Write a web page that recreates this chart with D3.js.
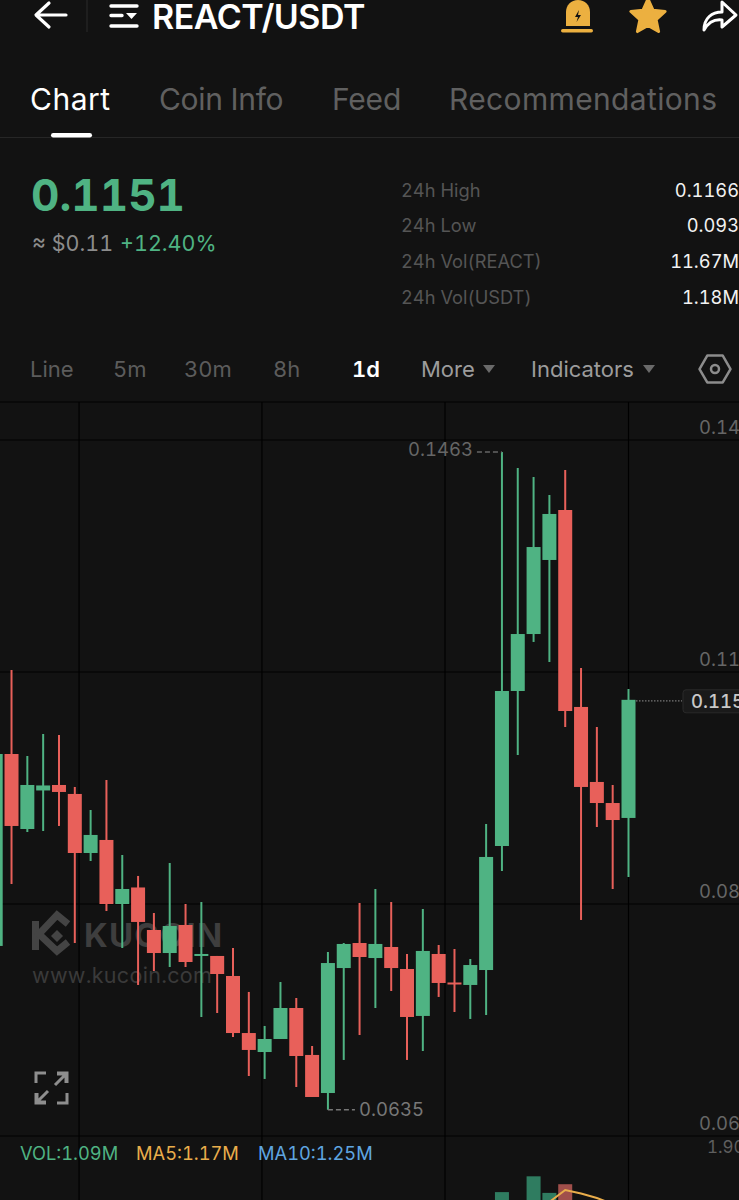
<!DOCTYPE html>
<html>
<head>
  <meta charset="utf-8">
  <title>REACT/USDT</title>
  <script src="https://cdn.jsdelivr.net/npm/d3@7"></script>
  <style>
    html, body { margin: 0; padding: 0; background: #121212; overflow: hidden; }
    svg { display: block; }
    text { font-family: Inter, "Noto Sans", sans-serif; font-variant-numeric: tabular-nums; font-feature-settings: "tnum"; }
    .axis path, .axis line { display: none; }
  </style>
</head>
<body>
  <div id="chart"></div>
  <script>
    // candles, oldest first
    var open = [.08412, .10828, .09884, .10369, .10438, .10325, .09582, .09746, .08940, .09148, .08613, .08323, .08676, .08286, .08286, .08034, .07316, .07077, .07241, .07631, .07040,
      .06561, .08134, .08449, .08260, .08399, .08122, .07531, .08311, .07952, .07921, .08109, .09670, .11621, .12338, .13270, .13899, .11420, .10476, .10211, .10023];
    var close = [.10828, .09922, .10438, .10432, .10350, .09582, .09809, .08940, .09129, .08714, .08323, .08663, .08210, .08311, .08059, .07316, .07103, .07241, .07631, .07027, .06511,
      .08197, .08437, .08273, .08437, .08134, .07518, .08349, .07946, .07933, .08172, .09532, .11621, .12338, .13433, .13849, .11369, .10413, .10211, .09997, .1151];
    var high = [.10828, .11885, .10803, .11080, .11067, .10413, .10123, .10501, .09557, .09293, .08827, .09456, .08940, .08965, .08286, .08386, .07833, .07405, .07958, .07757, .07153,
      .08336, .08449, .08953, .09129, .08965, .08311, .08877, .08424, .08374, .08248, .09947, .1463, .14428, .14314, .14088, .14402, .11910, .11168, .10438, .11646];
    var low = [.08412, .09192, .09846, .09859, .09922, .08449, .09481, .08852, .08386, .07921, .08097, .08147, .08147, .07518, .07568, .07266, .06775, .06738, .07241, .06637, .06511,
      .0635, .06977, .07291, .07631, .07845, .06977, .07090, .07770, .07581, .07493, .07543, .09355, .10815, .12238, .11986, .11168, .08739, .09909, .09129, .09280];

    var priceTicks = [0.1478, 0.1186, 0.0894, 0.0602];
    var gridSlots = [5.27, 16.83, 28.4, 40];

    // volume pane, only the tops of these reach the screen
    var volSlots = [32, 34, 35, 36];
    var volValues = [1.24, 1.44, 1.23, 1.34];
    var volUp = [true, true, true, false];
    var ma5Slots = [35, 36, 37, 38, 39];
    var ma5Values = [1.115, 1.267, 1.222, 1.165, 1.09];

    var tabs = ['Chart', 'Coin Info', 'Feed', 'Recommendations'];
    var statNames = ['24h High', '24h Low', '24h Vol(REACT)', '24h Vol(USDT)'];
    var statValues = ['0.1166', '0.093', '11.67M', '1.18M'];
    var periods = ['Line', '5m', '30m', '8h', '1d', 'More', 'Indicators'];
    var volLegend = ['VOL:1.09M', 'MA5:1.17M', 'MA10:1.25M'];

    var GREEN = '#4fb383', RED = '#e8605a', GOLD = '#ecb040';

    var svg = d3.select('#chart').append('svg')
      .attr('width', 739)
      .attr('height', 1200);

    svg.append('rect').attr('width', 739).attr('height', 1200).attr('fill', '#121212');

    var x = d3.scaleLinear().domain([0, 40]).range([-4.3, 628.5]);
    var y = d3.scaleLinear().domain([0.1478, 0.0602]).range([440, 1136]);
    var yVol = d3.scaleLinear().domain([0, 1.9]).range([1290, 1140]);

    function label(g, str, px, py, size, color, opts) {
      opts = opts || {};
      return g.append('text')
        .attr('x', px).attr('y', py)
        .attr('font-size', size)
        .attr('fill', color)
        .attr('font-weight', opts.weight || 400)
        .attr('text-anchor', opts.anchor || 'start')
        .attr('letter-spacing', opts.spacing || 0)
        .text(str);
    }

    ///////////////////////////////////////////////////////////////
    // Header
    ///////////////////////////////////////////////////////////////

    var head = svg.append('g');

    head.append('path').attr('d', 'M66 15H37M49 3L36 15L49 27')
      .attr('fill', 'none').attr('stroke', '#fff').attr('stroke-width', 3.2)
      .attr('stroke-linecap', 'round').attr('stroke-linejoin', 'round');
    head.append('line').attr('x1', 87).attr('x2', 87).attr('y1', 0).attr('y2', 32).attr('stroke', '#2a2a2a');
    head.append('path').attr('d', 'M111 6H137M111 15.5H122M111 26H137')
      .attr('stroke', '#fff').attr('stroke-width', 3.4).attr('stroke-linecap', 'round');
    head.append('path').attr('d', 'M126 13H137L131.5 19Z').attr('fill', '#fff');
    label(head, 'REACT/USDT', 152, 29, 34, '#fff', { weight: 600, spacing: -0.5 });

    head.append('path').attr('d', 'M566 26V12C566 5 571 0 578 0C585 0 590 5 590 12V26Z').attr('fill', GOLD);
    head.append('rect').attr('x', 561).attr('y', 29).attr('width', 32).attr('height', 3.5).attr('rx', 1.7).attr('fill', GOLD);
    head.append('path').attr('d', 'M579 10L575 17H578L576.5 22L581 15H578Z').attr('fill', '#121212');
    var starPts = d3.range(10).map(function (i) {
      var r = i % 2 ? 8.5 : 18, a = -Math.PI / 2 + i * Math.PI / 5;
      return [648 + r * Math.cos(a), 17 + r * Math.sin(a)];
    });
    head.append('path').attr('d', d3.line()(starPts) + 'Z').attr('fill', GOLD)
      .attr('stroke', GOLD).attr('stroke-width', 3).attr('stroke-linejoin', 'round');
    head.append('path').attr('d', 'M704 30C704 18 712 12 722 12V2L736 15L722 27V20C714 19 708 23 704 30Z')
      .attr('fill', 'none').attr('stroke', '#fff').attr('stroke-width', 3).attr('stroke-linejoin', 'round');

    var tabX = [30, 159, 332, 449];
    var tabSpacing = [0.5, -0.3, -0.2, 0.35];
    tabs.forEach(function (t, i) {
      label(head, t, tabX[i], 110, 30, i === 0 ? '#fff' : '#606060', { spacing: tabSpacing[i] });
    });
    head.append('line').attr('x1', 0).attr('x2', 739).attr('y1', 137.5).attr('y2', 137.5).attr('stroke', '#262626');
    head.append('rect').attr('x', 51).attr('y', 133).attr('width', 41).attr('height', 4.5).attr('rx', 2.2).attr('fill', '#fff');

    label(head, '0.1151', 31, 211, 44, GREEN, { weight: 700 });
    label(head, '≈ $0.11', 32, 251, 21.5, '#8c8c8c');
    label(head, '+12.40%', 120, 251, 21.5, GREEN);

    var statY = [197, 232, 268, 304];
    statNames.forEach(function (t, i) {
      label(head, t, 401, statY[i], 18.3, '#555');
      label(head, statValues[i], 739, statY[i], 18.3, '#f2f2f2', { anchor: 'end' });
    });

    var periodX = [30, 113, 184, 273, 352, 421, 531];
    periods.forEach(function (t, i) {
      var color = i === 4 ? '#fff' : (i > 4 ? '#9c9c9c' : '#5c5c5c');
      label(head, t, periodX[i], 377, 22, color, { weight: i === 4 ? 600 : 400 });
    });
    head.append('path').attr('d', 'M483 365H495L489 373Z').attr('fill', '#6a6a6a');
    head.append('path').attr('d', 'M643 365H655L649 373Z').attr('fill', '#6a6a6a');
    var hexPts = d3.range(6).map(function (i) {
      var a = i * Math.PI / 3;
      return [715 + 15.5 * Math.cos(a), 369 + 15.5 * Math.sin(a)];
    });
    head.append('path').attr('d', d3.line()(hexPts) + 'Z').attr('fill', 'none').attr('stroke', '#8c8c8c').attr('stroke-width', 2.5).attr('stroke-linejoin', 'round');
    head.append('circle').attr('cx', 715).attr('cy', 369).attr('r', 4).attr('fill', 'none').attr('stroke', '#8c8c8c').attr('stroke-width', 2.5);

    ///////////////////////////////////////////////////////////////
    // Grid + watermark
    ///////////////////////////////////////////////////////////////

    var grid = svg.append('g').attr('stroke', '#000').attr('stroke-width', 1.2);
    grid.append('line').attr('x1', 0).attr('x2', 739).attr('y1', 402).attr('y2', 402);
    grid.selectAll('.h').data(priceTicks).enter().append('line')
      .attr('class', 'h')
      .attr('x1', 0).attr('x2', 739)
      .attr('y1', function (d) { return y(d); })
      .attr('y2', function (d) { return y(d); });
    grid.selectAll('.v').data(gridSlots).enter().append('line')
      .attr('class', 'v')
      .attr('x1', function (d) { return x(d); })
      .attr('x2', function (d) { return x(d); })
      .attr('y1', 402).attr('y2', 1200);

    var mark = svg.append('g');
    mark.append('path').attr('d', 'M35.5 921V950').attr('stroke', '#444').attr('stroke-width', 7).attr('fill', 'none');
    mark.append('path').attr('d', 'M68 924L57 915L39 934L57 951L68 942')
      .attr('stroke', '#444').attr('stroke-width', 7).attr('fill', 'none');
    mark.append('path').attr('d', 'M57 930L63 936L57 942L51 936Z').attr('fill', '#444');
    label(mark, 'KUCOIN', 84, 947, 33, '#3e3e3e', { weight: 700, spacing: 1.2 });
    label(mark, 'www.kucoin.com', 32, 983, 21.5, '#3a3a3a', { spacing: 0.3 });

    ///////////////////////////////////////////////////////////////
    // Candles
    ///////////////////////////////////////////////////////////////

    var bodyWidth = 14;
    var candles = d3.range(open.length).map(function (i) {
      return { i: i, o: open[i], c: close[i], h: high[i], l: low[i] };
    });
    function candleColor(d) { return d.c >= d.o ? GREEN : RED; }

    var candle = svg.append('g').selectAll('g').data(candles).enter().append('g');
    candle.append('line')
      .attr('x1', function (d) { return x(d.i); })
      .attr('x2', function (d) { return x(d.i); })
      .attr('y1', function (d) { return y(d.h); })
      .attr('y2', function (d) { return y(d.l); })
      .attr('stroke', candleColor)
      .attr('stroke-width', 2);
    candle.append('rect')
      .attr('x', function (d) { return x(d.i) - bodyWidth / 2; })
      .attr('width', bodyWidth)
      .attr('y', function (d) { return y(Math.max(d.o, d.c)); })
      .attr('height', function (d) { return Math.max(2, Math.abs(y(d.o) - y(d.c))); })
      .attr('fill', candleColor);

    // high / low notes
    var hi = 32, lo = 21;
    label(svg, '0.1463', x(hi) - 94, y(high[hi]) + 4, 18.5, '#666');
    svg.append('path')
      .attr('d', 'M' + (x(hi) - 25) + ' ' + y(high[hi]) + 'H' + x(hi))
      .attr('stroke', '#666').attr('stroke-width', 1.5).attr('stroke-dasharray', '5 3');
    svg.append('path')
      .attr('d', 'M' + x(lo) + ' ' + y(low[lo]) + 'H' + (x(lo) + 27))
      .attr('stroke', '#777').attr('stroke-width', 1.5).attr('stroke-dasharray', '5 3');
    label(svg, '0.0635', 359, y(low[lo]) + 6, 18.5, '#777');

    ///////////////////////////////////////////////////////////////
    // Price axis and last price
    ///////////////////////////////////////////////////////////////

    var axis = svg.append('g')
      .attr('class', 'axis')
      .attr('transform', 'translate(699,0)')
      .call(d3.axisRight(y).tickValues(priceTicks).tickSize(0).tickPadding(0).tickFormat(d3.format('.4f')));
    axis.selectAll('text')
      .attr('dy', '-0.33em')
      .attr('font-size', 18.5)
      .attr('fill', '#666')
      .style('font-family', 'Inter, "Noto Sans", sans-serif');

    var last = close[close.length - 1];
    svg.append('line')
      .attr('x1', 636).attr('x2', 682)
      .attr('y1', y(last) + 1).attr('y2', y(last) + 1)
      .attr('stroke', '#777').attr('stroke-width', 1.2).attr('stroke-dasharray', '1.5 1.5');
    svg.append('rect')
      .attr('x', 683).attr('y', y(last) - 10).attr('width', 70).attr('height', 23).attr('rx', 3)
      .attr('fill', '#1a1a1a').attr('stroke', '#2a2a2a');
    label(svg, d3.format('.4f')(last), 691, y(last) + 8, 18.5, '#c8c8c8', { weight: 500 });

    // expand icon
    svg.append('path')
      .attr('d', 'M36 1083V1073H46M57 1073H67V1083M67 1093V1103H57M46 1103H36V1093M48 1091L37 1102M37 1102H46M37 1102V1093M55 1085L66 1074M66 1074H57M66 1074V1083')
      .attr('fill', 'none').attr('stroke', '#8e8e8e').attr('stroke-width', 3);

    ///////////////////////////////////////////////////////////////
    // Volume pane
    ///////////////////////////////////////////////////////////////

    var legendX = [20, 136, 258];
    volLegend.forEach(function (t, i) {
      label(svg, t, legendX[i], 1160, 18.3, ['#4fb383', '#e9ad4b', '#5fa5e0'][i]);
    });
    label(svg, '1.90M', 707, 1153, 17, '#5e5e5e');

    svg.append('g').selectAll('rect').data(volSlots).enter().append('rect')
      .attr('x', function (d) { return x(d) - bodyWidth / 2; })
      .attr('width', bodyWidth)
      .attr('y', function (d, i) { return yVol(volValues[i]); })
      .attr('height', function (d, i) { return 1290 - yVol(volValues[i]); })
      .attr('fill', function (d, i) { return volUp[i] ? '#2f7c60' : '#a04f4b'; });

    var maLine = d3.line()
      .x(function (d) { return x(d); })
      .y(function (d, i) { return yVol(ma5Values[i]); });
    svg.append('path')
      .attr('d', maLine(ma5Slots))
      .attr('fill', 'none')
      .attr('stroke', '#e9ad4b')
      .attr('stroke-width', 2);
  </script>
</body>
</html>
